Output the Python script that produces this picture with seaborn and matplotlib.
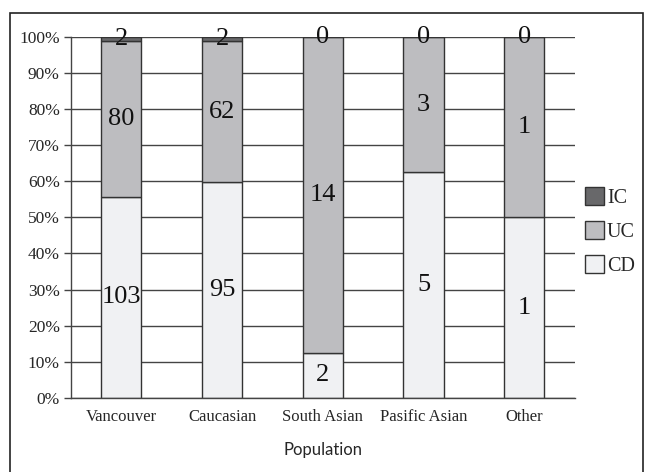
import numpy as np
import matplotlib
matplotlib.use("Agg")
import matplotlib.pyplot as plt
import matplotlib.patches as mpatches
import pandas as pd
import seaborn as sns

populations = ["Vancouver", "Caucasian", "South Asian", "Pasific Asian", "Other"]
cd_counts = [103, 95, 2, 5, 1]
uc_counts = [80, 62, 14, 3, 1]
ic_counts = [2, 2, 0, 0, 0]
y_ticks = [0, 10, 20, 30, 40, 50, 60, 70, 80, 90, 100]

sns.set_style("white")
plt.rcParams['font.family'] = ['Liberation Serif', 'DejaVu Serif']

totals = np.array(cd_counts) + np.array(uc_counts) + np.array(ic_counts)
df = pd.DataFrame({
    'population': populations,
    'CD': np.array(cd_counts) / totals * 100,
    'UC': np.array(uc_counts) / totals * 100,
    'IC': np.array(ic_counts) / totals * 100,
})

fig = plt.figure(figsize=(6.45, 4.72), dpi=100)
ax = fig.add_axes([0.110, 0.157, 0.781, 0.765])

layers = [("CD", cd_counts, "#f0f1f3"), ("UC", uc_counts, "#bcbdc0"), ("IC", ic_counts, "#68686a")]
bottom = np.zeros(len(populations))
for name, counts, color in layers:
    sns.barplot(data=df, x='population', y=name, bottom=bottom, color=color,
                edgecolor="#333333", linewidth=1, width=0.4, ax=ax,
                label=name, zorder=2)
    bottom = bottom + df[name].values

for cont, (name, counts, color) in zip(ax.containers, layers):
    ax.bar_label(cont, labels=[str(c) for c in counts], label_type='center',
                 fontsize=19, color="#111111")

ax.set_ylim(0, 100)
ax.set_xlim(-0.5, 4.5)
ax.set_yticks(y_ticks)
ax.set_yticklabels([f"{t}%" for t in y_ticks])
ax.yaxis.grid(True, color="#444444", linewidth=1)
ax.set_axisbelow(True)
for s in ['top', 'right']:
    ax.spines[s].set_visible(False)
for s in ['left', 'bottom']:
    ax.spines[s].set_color("#444444")
    ax.spines[s].set_linewidth(1)
ax.tick_params(axis='y', length=5, width=1, color="#444444", labelsize=12.5, left=True, pad=3)
ax.tick_params(axis='x', length=0, labelsize=12, pad=8)
ax.set_ylabel("")
ax.set_xlabel("Population", family=['Lato', 'DejaVu Sans'], fontsize=12, labelpad=12)

handles, labels = ax.get_legend_handles_labels()
ax.legend(handles[::-1], labels[::-1], loc='center left', bbox_to_anchor=(1.0, 0.46),
          frameon=False, fontsize=14.5, handlelength=0.95, handleheight=1.0,
          handletextpad=0.15, labelspacing=0.65, borderaxespad=0.1)

frame = mpatches.Rectangle((0.0155, -0.02), 0.982, 0.992, transform=fig.transFigure,
                           fill=False, edgecolor="#222222", linewidth=1.2)
fig.patches.append(frame)

fig.savefig("out.png", dpi=100)
